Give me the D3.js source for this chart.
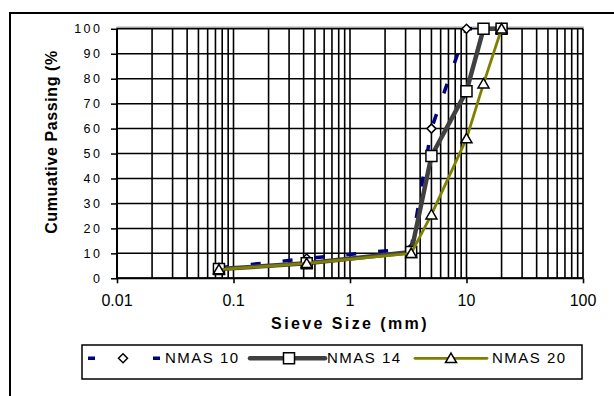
<!DOCTYPE html>
<html><head><meta charset="utf-8">
<script src="https://cdn.jsdelivr.net/npm/d3@7"></script>
<style>body{margin:0;background:#fff}svg{display:block}text{font-family:"Liberation Sans",Arial,sans-serif;fill:#000}</style>
</head><body>
<svg id="c" width="614" height="396"></svg>
<script>
const sieves = [0.075, 0.425, 3.35, 5, 10, 14, 20];
const nmas10 = [4.2, 7.9, 12, 60, 100, 100, 100];
const nmas14 = [3.7, 6, 10.5, 49, 75, 100, 100];
const nmas20 = [3.5, 6, 10, 25.5, 56, 78, 100];
const seriesNames = ["NMAS 10", "NMAS 14", "NMAS 20"];
const xTicks = [0.01, 0.1, 1, 10, 100];
const yTicks = [0, 10, 20, 30, 40, 50, 60, 70, 80, 90, 100];

const svg = d3.select("#c");
const x = d3.scaleLog().domain([0.01, 100]).range([117, 583]);
const y = d3.scaleLinear().domain([0, 100]).range([278.3, 28.8]);

// outer border
svg.append("rect").attr("x", 10).attr("y", 13).attr("width", 620).attr("height", 400)
  .attr("fill", "none").attr("stroke", "#000").attr("stroke-width", 2);

// plot area gray border
svg.append("rect").attr("x", x(0.01)).attr("y", y(100) - 1.5).attr("width", x(100) - x(0.01)).attr("height", y(0) - y(100) + 1.5)
  .attr("fill", "none").attr("stroke", "#a0a0a0").attr("stroke-width", 1.5);

// vertical gridlines (log minor)
const vgrid = [];
for (let k = -2; k <= 1; k++) for (let m = 1; m <= 9; m++) vgrid.push(m * Math.pow(10, k));
vgrid.push(100);
const g = svg.append("g");
g.selectAll("line.v").data(vgrid).join("line")
  .attr("x1", d => x(d)).attr("x2", d => x(d)).attr("y1", y(0)).attr("y2", y(100))
  .attr("stroke", "#000").attr("stroke-width", 1.6);
g.selectAll("line.h").data(yTicks).join("line")
  .attr("x1", x(0.01)).attr("x2", x(100)).attr("y1", d => y(d)).attr("y2", d => y(d))
  .attr("stroke", "#000").attr("stroke-width", 1.5);

// axes
const yAxis = d3.axisLeft(y).tickValues(yTicks).tickSize(6).tickFormat("");
const ya = svg.append("g").attr("transform", `translate(${x(0.01)},0)`).call(yAxis);
ya.select(".domain").attr("stroke", "#000").attr("stroke-width", 2).attr("d", `M0,${y(0)}V${y(100)}`);
ya.selectAll(".tick line").attr("stroke", "#000").attr("stroke-width", 1.5);

const xAxis = d3.axisBottom(x).tickValues(xTicks).tickSize(5).tickFormat("");
const xa = svg.append("g").attr("transform", `translate(0,${y(0)})`).call(xAxis);
xa.select(".domain").attr("stroke", "#000").attr("stroke-width", 2).attr("d", `M${x(0.01)},0H${x(100)}`);
xa.selectAll(".tick line").attr("stroke", "#000").attr("stroke-width", 1.6);

// tick labels
svg.selectAll("text.yl").data(yTicks).join("text")
  .attr("x", 102.5).attr("y", d => y(d) + 4.6)
  .attr("text-anchor", "end").attr("font-size", "12.5px").attr("letter-spacing", "2.5px")
  .text(d => d);
svg.selectAll("text.xl").data(xTicks).join("text")
  .attr("x", d => x(d)).attr("y", 306)
  .attr("text-anchor", "middle").attr("font-size", "16px")
  .text(d => d3.format("~g")(d));

// axis titles
svg.append("text").attr("x", 350).attr("y", 329).attr("text-anchor", "middle")
  .attr("font-size", "16px").attr("font-weight", "bold").attr("letter-spacing", "2.4px")
  .text("Sieve Size (mm)");
svg.append("text").attr("transform", "translate(57,142) rotate(-90)").attr("text-anchor", "middle")
  .attr("font-size", "16px").attr("font-weight", "bold").attr("letter-spacing", "0.6px")
  .text("Cumuative Passing (%");

// series
const line = d3.line().x(d => x(d[0])).y(d => y(d[1]));
const s10 = sieves.map((s, i) => [s, nmas10[i]]);
const s14 = sieves.map((s, i) => [s, nmas14[i]]);
const s20 = sieves.map((s, i) => [s, nmas20[i]]);

const diamond = r => `M0,${-r}L${r},0L0,${r}L${-r},0Z`;
const square = r => `M${-r},${-r}H${r}V${r}H${-r}Z`;
const tri = r => `M0,${-r * 1.05}L${r * 1.1},${r * 0.85}L${-r * 1.1},${r * 0.85}Z`;

function drawSeries(data, color, width, dash, shape) {
  svg.append("path").datum(data).attr("d", line).attr("fill", "none")
    .attr("stroke", color).attr("stroke-width", width).attr("stroke-dasharray", dash)
    .attr("stroke-linejoin", "round");
  svg.append("g").selectAll("path").data(data).join("path")
    .attr("transform", d => `translate(${x(d[0])},${y(d[1])})`)
    .attr("d", shape).attr("fill", "#fff").attr("stroke", "#000").attr("stroke-width", 1.5);
}
drawSeries(s10, "#000080", 3.5, "10,22", diamond(4.5));
drawSeries(s14, "#404040", 4.5, null, square(5.5));
drawSeries(s20, "#808000", 2.8, null, tri(5));

// legend
svg.append("rect").attr("x", 82).attr("y", 345).attr("width", 500).attr("height", 34)
  .attr("fill", "#fff").attr("stroke", "#000").attr("stroke-width", 1.5);
const ly = 358.3;
const leg = [
  {name: seriesNames[0], x1: 88, x2: 160, mx: 123, tx: 165, color: "#000080", w: 3.5, dash: "7,58", shape: diamond(4.5)},
  {name: seriesNames[1], x1: 250, x2: 325, mx: 289, tx: 327, color: "#404040", w: 4.5, dash: null, shape: square(5.5)},
  {name: seriesNames[2], x1: 415, x2: 487, mx: 451, tx: 492, color: "#808000", w: 2.8, dash: null, shape: tri(5)}
];
leg.forEach(l => {
  svg.append("line").attr("x1", l.x1).attr("x2", l.x2).attr("y1", ly).attr("y2", ly)
    .attr("stroke", l.color).attr("stroke-width", l.w).attr("stroke-dasharray", l.dash)
    .attr("stroke-linecap", l.dash ? "butt" : "round");
  svg.append("path").attr("transform", `translate(${l.mx},${ly})`).attr("d", l.shape)
    .attr("fill", "#fff").attr("stroke", "#000").attr("stroke-width", 1.5);
  svg.append("text").attr("x", l.tx).attr("y", 362.5).attr("font-size", "15px")
    .attr("letter-spacing", "1.5px").text(l.name);
});
</script>
</body></html>
